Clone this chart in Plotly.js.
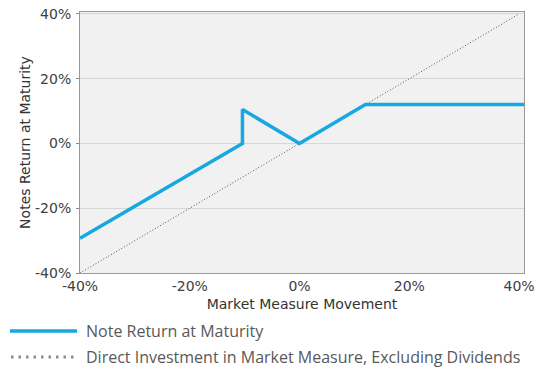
<!DOCTYPE html>
<html>
<head>
<meta charset="utf-8">
<script src="https://cdn.plot.ly/plotly-3.0.1.min.js"></script>
<style>html,body{margin:0;padding:0;background:#fff;}#chart{width:536px;height:372px;}</style>
</head>
<body>
<div id="chart"></div>
<script>
// Data (percent)
const noteX = [-40, -10.4, -10.4, 0, 12, 41];
const noteY = [-29.3, 0, 10.5, 0, 12, 12];
const directX = [-40, 40];
const directY = [-40, 40];
const tickVals = [-40, -20, 0, 20, 40];
const tickText = ['-40%', '-20%', '0%', '20%', '40%'];
const seriesNames = ['Note Return at Maturity', 'Direct Investment in Market Measure, Excluding Dividends'];

const blue = '#15a8e2';
const tickFont = {family: 'DejaVu Sans', size: 14, color: '#404040'};

const traces = [
  {x: directX, y: directY, mode: 'lines', name: seriesNames[1],
   line: {color: '#555555', width: 1, dash: '1px,2px'}, hoverinfo: 'skip'},
  {x: noteX, y: noteY, mode: 'lines', name: seriesNames[0],
   line: {color: blue, width: 3.5}, hoverinfo: 'skip'}
];

const L = 80, W = 444; // plot left and width in px
function px(p) { return (p - L) / W; }
const T = 12, H = 261;
function py(p) { return 1 - (p - T) / H; }

const layout = {
  width: 536, height: 372,
  margin: {l: 80, r: 12, t: 12, b: 99},
  paper_bgcolor: '#ffffff', plot_bgcolor: '#f1f1f1',
  showlegend: false,
  xaxis: {
    range: [-40, 40.9], tickvals: tickVals, ticktext: tickText,
    tickfont: tickFont, ticks: '',
    showgrid: false, zeroline: false,
    showline: true, linecolor: '#9a9a9a', linewidth: 1, mirror: true,
    title: {text: 'Market Measure Movement', font: {family: 'DejaVu Sans', size: 14, color: '#333333'}, standoff: 6},
    fixedrange: true
  },
  yaxis: {
    range: [-40, 40.6], tickvals: tickVals, ticktext: tickText,
    tickfont: tickFont, ticks: 'outside', ticklen: 3, tickcolor: '#888888',
    ticklabelstandoff: 2,
    showgrid: true, gridcolor: '#d6d6d6', gridwidth: 1, zeroline: false,
    showline: true, linecolor: '#9a9a9a', linewidth: 1, mirror: true,
    title: {text: 'Notes Return at Maturity', font: {family: 'DejaVu Sans', size: 14, color: '#333333'}},
    fixedrange: true
  },
  shapes: [
    {type: 'line', xref: 'paper', yref: 'paper', x0: px(10), x1: px(77), y0: py(331), y1: py(331),
     line: {color: blue, width: 3.5}},
    {type: 'line', xref: 'paper', yref: 'paper', x0: px(11), x1: px(77), y0: py(357), y1: py(357),
     line: {color: '#958a7c', width: 3, dash: '2.5px,5px'}}
  ],
  annotations: [
    {xref: 'paper', yref: 'paper', x: px(84), y: py(331), xanchor: 'left', yanchor: 'middle',
     text: seriesNames[0], showarrow: false, font: {family: 'Open Sans', size: 16, color: '#595959'}},
    {xref: 'paper', yref: 'paper', x: px(84), y: py(357), xanchor: 'left', yanchor: 'middle',
     text: seriesNames[1], showarrow: false, font: {family: 'Open Sans', size: 16, color: '#595959'}}
  ]
};

Plotly.newPlot('chart', traces, layout, {displayModeBar: false, staticPlot: true});
</script>
</body>
</html>
